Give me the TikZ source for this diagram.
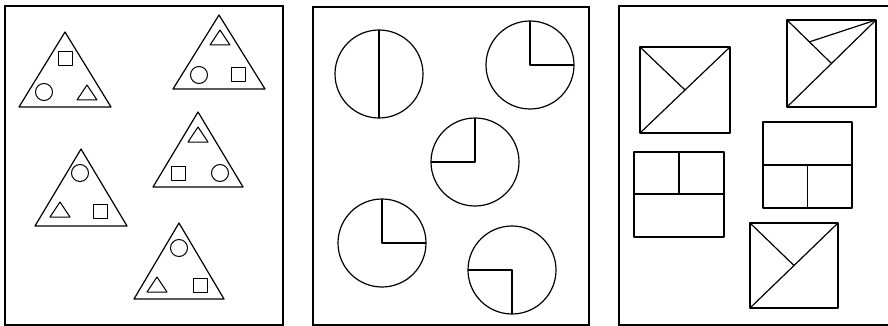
\documentclass[tikz,border=0pt]{standalone}
\usetikzlibrary{calc}

\begin{document}
\begin{tikzpicture}[x=1pt,y=-1pt,
  frame/.style={draw=black, line width=1.2pt},
  fig/.style={draw=black, line width=1.2pt, line join=round},
  inner/.style={draw=black, line width=1pt, line join=round}
]
  \useasboundingbox (0,0) rectangle (888,326);

  %% Panel frames
  \draw[frame] (5,6) rectangle (283,325);
  \draw[frame] (313,7) rectangle (589,325);
  \draw[frame] (619,6) rectangle (892,325);

  %% Panel 1: triangles
  \draw[fig] (65,32) -- (19,107) -- (111,107) -- cycle;
  \draw[inner] (58,52) rectangle (72,66);
  \draw[inner] (44,92) circle (8.5pt);
  \draw[inner] (87,85) -- (77,100) -- (97,100) -- cycle;

  \draw[fig] (219,15) -- (173,89) -- (265,89) -- cycle;
  \draw[inner] (220,30) -- (210,45) -- (230,45) -- cycle;
  \draw[inner] (199,75) circle (8.5pt);
  \draw[inner] (231,68) rectangle (245,82);

  \draw[fig] (198,112) -- (153,187) -- (243,187) -- cycle;
  \draw[inner] (198,127) -- (188,142) -- (208,142) -- cycle;
  \draw[inner] (171,166) rectangle (185,180);
  \draw[inner] (220,173) circle (8.5pt);

  \draw[fig] (81,149) -- (35,226) -- (127,226) -- cycle;
  \draw[inner] (80,173) circle (8.5pt);
  \draw[inner] (60,202) -- (50,217) -- (70,217) -- cycle;
  \draw[inner] (93,204) rectangle (107,218);

  \draw[fig] (179,223) -- (134,299) -- (224,299) -- cycle;
  \draw[inner] (179,248) circle (8.5pt);
  \draw[inner] (157,277) -- (147,292) -- (167,292) -- cycle;
  \draw[inner] (193,278) rectangle (207,292);

  %% Panel 2: circles
  \draw[fig] (379,74) circle (44pt);
  \draw[fig] (379,30) -- (379,118);

  \draw[fig] (530,65) circle (44pt);
  \draw[fig] (530,21) |- (574,65);

  \draw[fig] (475,162) circle (44pt);
  \draw[fig] (475,118) |- (431,162);

  \draw[fig] (382,243) circle (44pt);
  \draw[fig] (382,199) |- (426,243);

  \draw[fig] (512,270) circle (44pt);
  \draw[fig] (468,270) -| (512,314);

  %% Panel 3: squares
  \draw[fig] (640,47) rectangle (730,133);
  \draw[fig] (640,133) -- (730,47);
  \draw[fig] (640,47) -- (685,90);

  \draw[fig] (787,20) rectangle (876,107);
  \draw[fig] (787,107) -- (876,20);
  \draw[fig] (787,20) -- (831.5,63.5);
  \draw[fig] (876,20) -- (809,42);

  \draw[fig] (763,122) rectangle (852,208);
  \draw[fig] (763,165) -- (852,165);
  \draw[fig] (807.5,165) -- (807.5,208);

  \draw[fig] (634,152) rectangle (724,237);
  \draw[fig] (634,194) -- (724,194);
  \draw[fig] (679,152) -- (679,194);

  \draw[fig] (750,223) rectangle (838,308);
  \draw[fig] (750,308) -- (838,223);
  \draw[fig] (750,223) -- (794,265.5);
\end{tikzpicture}
\end{document}
